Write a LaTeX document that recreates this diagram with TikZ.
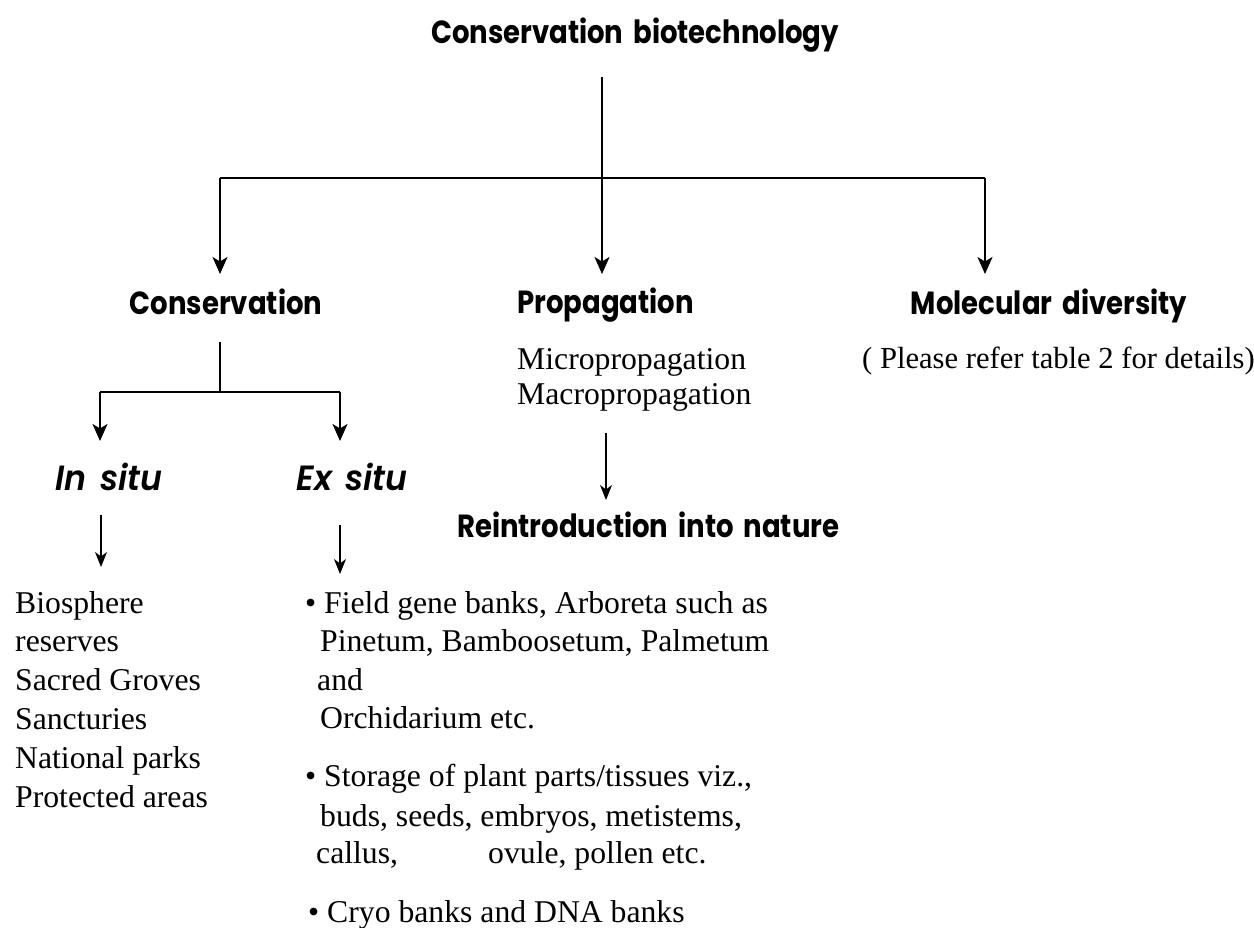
\documentclass[tikz,border=0pt]{standalone}
\usepackage{fontspec}
\setmainfont{Liberation Serif}
\newfontfamily\headfont{Poppins}[UprightFont=* Bold, FakeStretch=0.86, WordSpace=1.7]
\newfontfamily\iheadfont{Poppins}[UprightFont=* SemiBold Italic, FakeStretch=0.95, WordSpace=1.5]
\usetikzlibrary{arrows.meta}
\begin{document}
\begin{tikzpicture}[x=1pt,y=-1pt,
  ln/.style={line width=1.7pt},
  arr/.style={ln,-{Stealth[length=17pt,width=15pt,inset=4.5pt]}},
  sarr/.style={line width=1.3pt,-{Stealth[length=15pt,width=12pt,inset=4.5pt]}},
  head/.style={inner sep=0pt,anchor=base,font=\headfont\fontsize{32}{38}\selectfont},
  ihead/.style={head,font=\iheadfont\fontsize{35}{40}\selectfont},
  body/.style={inner sep=0pt,anchor=base west,font=\fontsize{31.7}{38.8}\selectfont}]
\useasboundingbox (0,0) rectangle (1254,928);
% headings
\node[head] (title) at (635,44) {Conservation biotechnology};
\node[head] (cons) at (226,315) {Conservation};
\node[head,anchor=base west] (prop) at (517,313) {Propagation};
\node[head] (mol) at (1049,315) {Molecular diversity};
\node[ihead] (insitu) at (109,490) {In situ};
\node[ihead] (exsitu) at (352,490) {Ex situ};
\node[head,anchor=base west] (reint) at (457,537) {Reintroduction into nature};
% propagation / molecular text
\node[body] (micro) at (517,370) {Micropropagation};
\node[body] (macro) at (517,404) {Macropropagation};
\node[body,font=\fontsize{30.6}{38}\selectfont] (refer) at (862,368) {( Please refer table 2 for details)};
% main tree
\coordinate (t0) at (602,77);
\coordinate (bar) at (602,178);
\coordinate (barL) at (220,178);
\coordinate (barR) at (985,178);
\coordinate (tipL) at (220,274);
\coordinate (tipM) at (602,274);
\coordinate (tipR) at (985,274);
\draw[ln] (t0) -- (bar);
\draw[ln] (barL) -- (barR);
\draw[arr] (barL) -- (tipL);
\draw[arr] (bar) -- (tipM);
\draw[arr] (barR) -- (tipR);
% conservation subtree
\coordinate (c0) at (220,342);
\coordinate (c1) at (220,392);
\coordinate (cL) at (100,392);
\coordinate (cR) at (340,392);
\coordinate (cLt) at (100,441);
\coordinate (cRt) at (340,441);
\draw[ln] (c0) -- (c1);
\draw[ln] (cL) -- (cR);
\draw[arr] (cL) -- (cLt);
\draw[arr] (cR) -- (cRt);
% small arrows
\coordinate (is0) at (101,515);
\coordinate (is1) at (101,567);
\coordinate (es0) at (340,525);
\coordinate (es1) at (340,574);
\coordinate (pr0) at (606,433);
\coordinate (pr1) at (606,500);
\draw[sarr] (is0) -- (is1);
\draw[sarr] (es0) -- (es1);
\draw[sarr] (pr0) -- (pr1);
% in situ list
\foreach \t [count=\i from 0] in {Biosphere,reserves,Sacred Groves,Sancturies,National parks,Protected areas}
  \node[body] (ins\i) at (15,613+38.8*\i) {\t};
% ex situ list
\node[body] (e1) at (305,613) {• Field gene banks, Arboreta such as};
\node[body] (e2) at (320,651) {Pinetum, Bamboosetum, Palmetum};
\node[body] (e3) at (317,690) {and};
\node[body] (e4) at (320,728) {Orchidarium etc.};
\node[body] (e5) at (305,786) {• Storage of plant parts/tissues viz.,};
\node[body] (e6) at (320,826) {buds, seeds, embryos, metistems,};
\node[body] (e7) at (316,863) {callus,};
\node[body] (e8) at (488,863) {ovule, pollen etc.};
\node[body] (e9) at (308,922) {• Cryo banks and DNA banks};
\end{tikzpicture}
\end{document}
